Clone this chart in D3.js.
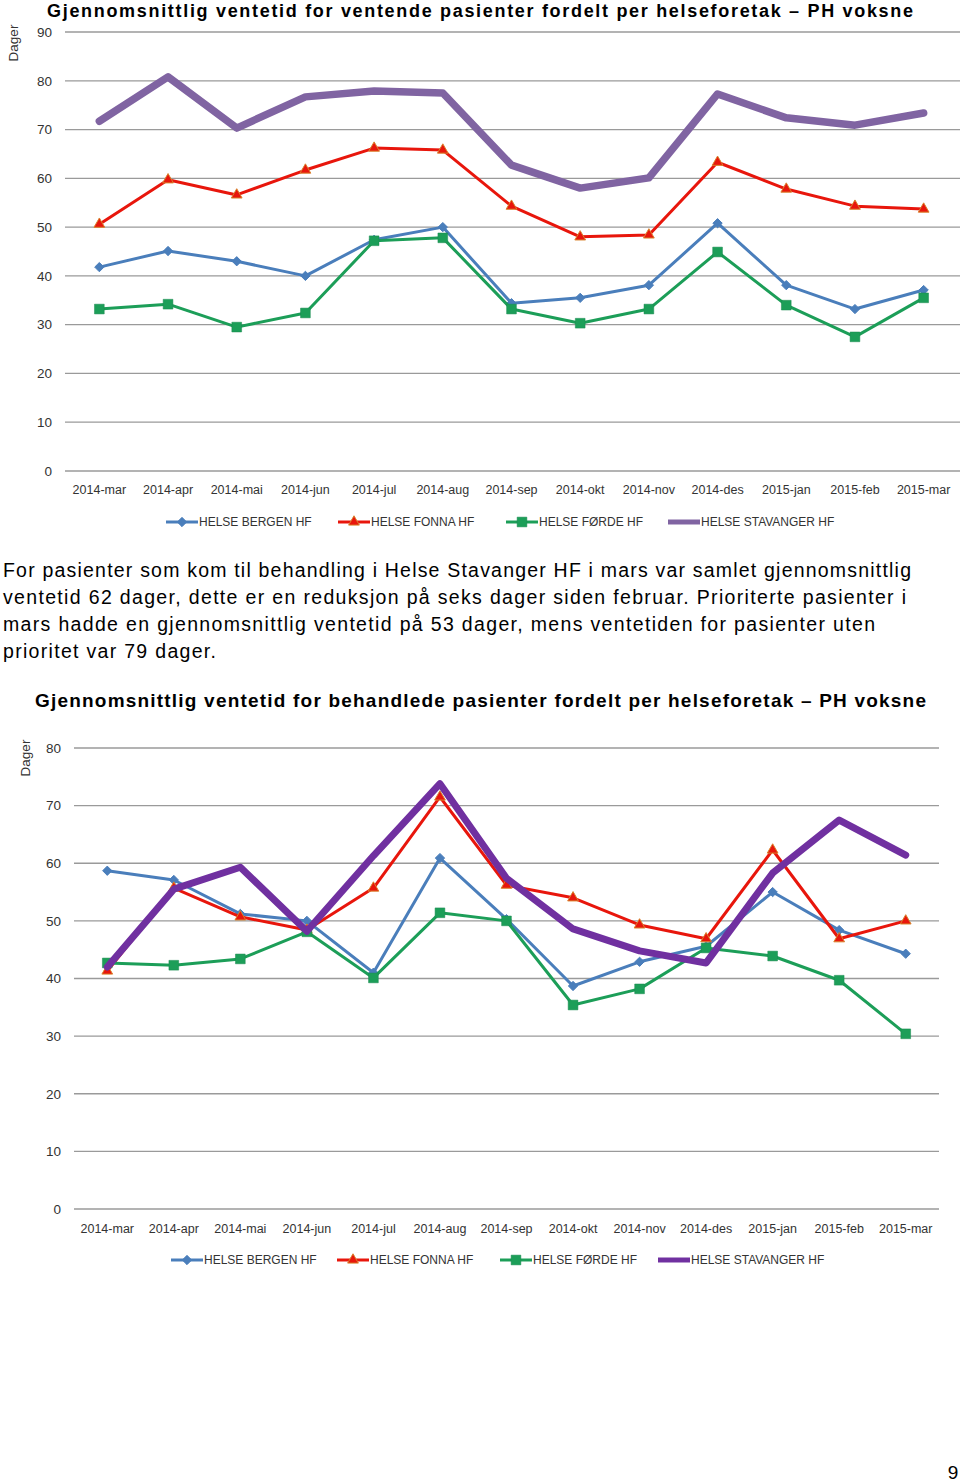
<!DOCTYPE html>
<html><head><meta charset="utf-8">
<script src="https://cdn.jsdelivr.net/npm/d3@7"></script>
<style>
html,body{margin:0;padding:0;background:#fff;}
svg{display:block;font-family:"Liberation Sans",Arial,sans-serif;}
</style></head>
<body>
<svg id="page" width="960" height="1484"></svg>
<script>
const months = ["2014-mar","2014-apr","2014-mai","2014-jun","2014-jul","2014-aug","2014-sep","2014-okt","2014-nov","2014-des","2015-jan","2015-feb","2015-mar"];
const seriesNames = ["HELSE BERGEN HF","HELSE FONNA HF","HELSE FØRDE HF","HELSE STAVANGER HF"];

// Chart 1: ventende pasienter
const bergen1    = [41.8,45.1,43.0,40.0,47.4,50.0,34.4,35.5,38.1,50.8,38.1,33.2,37.1];
const fonna1     = [50.6,59.7,56.6,61.7,66.2,65.8,54.3,48.0,48.4,63.3,57.8,54.3,53.7];
const forde1     = [33.2,34.2,29.5,32.4,47.2,47.8,33.2,30.3,33.2,44.9,34.0,27.5,35.5];
const stavanger1 = [71.7,80.8,70.3,76.7,77.9,77.5,62.7,58.0,60.1,77.3,72.4,70.9,73.4];
const yTicks1 = [0,10,20,30,40,50,60,70,80,90];

// Chart 2: behandlede pasienter
const bergen2    = [58.7,57.1,51.2,50.0,41.0,60.9,50.3,38.7,42.9,45.6,55.0,48.4,44.3];
const fonna2     = [41.3,55.7,50.7,48.4,55.7,71.5,56.2,54.0,49.3,46.9,62.3,46.9,50.0];
const forde2     = [42.7,42.3,43.4,48.1,40.1,51.4,50.0,35.4,38.2,45.3,43.9,39.7,30.4];
const stavanger2 = [42.0,55.5,59.3,48.2,61.3,73.8,57.4,48.6,44.8,42.7,58.3,67.5,61.4];
const yTicks2 = [0,10,20,30,40,50,60,70,80];

const title1 = "Gjennomsnittlig ventetid for ventende pasienter fordelt per helseforetak – PH voksne";
const title2 = "Gjennomsnittlig ventetid for behandlede pasienter fordelt per helseforetak – PH voksne";
const paragraph = [
  "For pasienter som kom til behandling i Helse Stavanger HF i mars var samlet gjennomsnittlig",
  "ventetid 62 dager, dette er en reduksjon på seks dager siden februar.  Prioriterte pasienter i",
  "mars hadde en gjennomsnittlig ventetid på 53 dager, mens ventetiden for pasienter uten",
  "prioritet var 79 dager."
];
const paraWidths = [908, 903, 872, 213];
const yLabel = "Dager";
const pageNumber = "9";

const svg = d3.select("#page");

const styles = {
  blue:  {color:"#4A7EBB", width:3, marker:"diamond"},
  red:   {color:"#E8160C", width:3, marker:"triangle"},
  green: {color:"#1C9E58", width:3, marker:"square"},
};

function drawMarker(g, type, x, y, color) {
  if (type === "diamond") {
    g.append("path").attr("d", d3.symbol(d3.symbolDiamond2, 55)())
      .attr("transform", `translate(${x},${y})`).attr("fill", color).attr("stroke", color).attr("stroke-width",1);
  } else if (type === "triangle") {
    g.append("path").attr("d", d3.symbol(d3.symbolTriangle, 50)())
      .attr("transform", `translate(${x},${y})`).attr("fill", "#E8160C").attr("stroke", "#D9822B").attr("stroke-width",1);
  } else if (type === "square") {
    g.append("path").attr("d", d3.symbol(d3.symbolSquare, 95)())
      .attr("transform", `translate(${x},${y})`).attr("fill", color).attr("stroke", "#1a8a50").attr("stroke-width",0.5);
  }
}

function drawChart(cfg) {
  const g = svg.append("g");
  const x = d3.scaleBand().domain(months).range([cfg.x0, cfg.x1]);
  const y = d3.scaleLinear().domain([0, cfg.ymax]).range([cfg.yBottom, cfg.yTop]);
  const cx = d => x(d) + x.bandwidth()/2;

  // gridlines
  g.append("g").selectAll("line").data(cfg.ticks).join("line")
    .attr("x1", cfg.x0).attr("x2", cfg.gridEnd)
    .attr("y1", d => y(d)).attr("y2", d => y(d))
    .attr("stroke", "#9a9a9a").attr("stroke-width", 1.3);

  // y axis labels
  const yAxis = d3.axisLeft(y).tickValues(cfg.ticks).tickSize(0).tickPadding(0);
  const ya = g.append("g").attr("transform", `translate(${cfg.yLabelX},0)`).call(yAxis);
  ya.select(".domain").remove();
  ya.selectAll("text").attr("font-size", 13.5).attr("fill", "#333").attr("font-family","Liberation Sans, Arial, sans-serif");

  // x axis labels
  const xAxis = d3.axisBottom(x).tickSize(0).tickPadding(0);
  const xa = g.append("g").attr("transform", `translate(0,${cfg.xLabelY})`).call(xAxis);
  xa.select(".domain").remove();
  xa.selectAll("text").attr("dy", null).attr("dominant-baseline","central")
    .attr("font-size", 12.5).attr("fill", "#333").attr("font-family","Liberation Sans, Arial, sans-serif");

  // Dager
  g.append("text").attr("transform", `translate(${cfg.dagerX},${cfg.dagerY}) rotate(-90)`)
    .attr("text-anchor","middle").attr("dominant-baseline","central")
    .attr("font-size", 13.5).attr("fill","#333").text(yLabel);

  const line = d3.line().x((d,i) => cx(months[i])).y(d => y(d));
  const data = cfg.data;
  const series = [
    {vals: data[0], st: styles.blue},
    {vals: data[1], st: styles.red},
    {vals: data[2], st: styles.green},
    {vals: data[3], st: {color: cfg.purple, width: cfg.purpleWidth, marker: null}},
  ];
  for (const s of cfg.order.map(i => series[i])) {
    g.append("path").datum(s.vals).attr("d", line).attr("fill","none")
      .attr("stroke", s.st.color).attr("stroke-width", s.st.width)
      .attr("stroke-linejoin","round").attr("stroke-linecap","round");
    if (s.st.marker) {
      s.vals.forEach((v,i) => drawMarker(g, s.st.marker, cx(months[i]), y(v), s.st.color));
    }
  }

  // legend
  const lg = g.append("g");
  seriesNames.forEach((name, i) => {
    const lx = cfg.legendX[i];
    const s = series[i];
    lg.append("line").attr("x1", lx).attr("x2", lx+32).attr("y1", cfg.legendY).attr("y2", cfg.legendY)
      .attr("stroke", s.st.color).attr("stroke-width", s.st.marker ? 3 : 5);
    if (s.st.marker) drawMarker(lg, s.st.marker, lx+16, cfg.legendY, s.st.color);
    lg.append("text").attr("x", lx+33).attr("y", cfg.legendY).attr("dominant-baseline","central")
      .attr("font-size", 12).attr("fill","#333").text(name);
  });
}

// titles
svg.append("text").attr("x", 47).attr("y", 16.5).attr("font-size", 18).attr("font-weight","bold")
  .attr("fill","#000").attr("textLength", 866).attr("lengthAdjust","spacing").text(title1);
svg.append("text").attr("x", 35).attr("y", 707).attr("font-size", 19).attr("font-weight","bold")
  .attr("fill","#000").attr("textLength", 891).attr("lengthAdjust","spacing").text(title2);

// paragraph
paragraph.forEach((t,i) => {
  svg.append("text").attr("x", 3).attr("y", 577 + i*27).attr("font-size", 19.5)
    .attr("fill","#000").attr("textLength", paraWidths[i]).attr("lengthAdjust","spacing").text(t);
});

// page number
svg.append("text").attr("x", 953).attr("y", 1479).attr("text-anchor","middle").attr("font-size", 19).attr("fill","#000").text(pageNumber);

drawChart({
  x0: 65, x1: 958, gridEnd: 960, yTop: 32, yBottom: 471, ymax: 90, ticks: yTicks1,
  yLabelX: 52, xLabelY: 490, dagerX: 13, dagerY: 43,
  data: [bergen1, fonna1, forde1, stavanger1], purple: "#8064A2", purpleWidth: 7.5, order: [3,0,1,2],
  legendX: [166, 338, 506, 668], legendY: 522
});

drawChart({
  x0: 74, x1: 939, gridEnd: 939, yTop: 748, yBottom: 1209, ymax: 80, ticks: yTicks2,
  yLabelX: 61, xLabelY: 1229, dagerX: 25, dagerY: 758,
  data: [bergen2, fonna2, forde2, stavanger2], purple: "#7030A0", purpleWidth: 7, order: [0,1,2,3],
  legendX: [171, 337, 500, 658], legendY: 1260
});
</script>
</body></html>
